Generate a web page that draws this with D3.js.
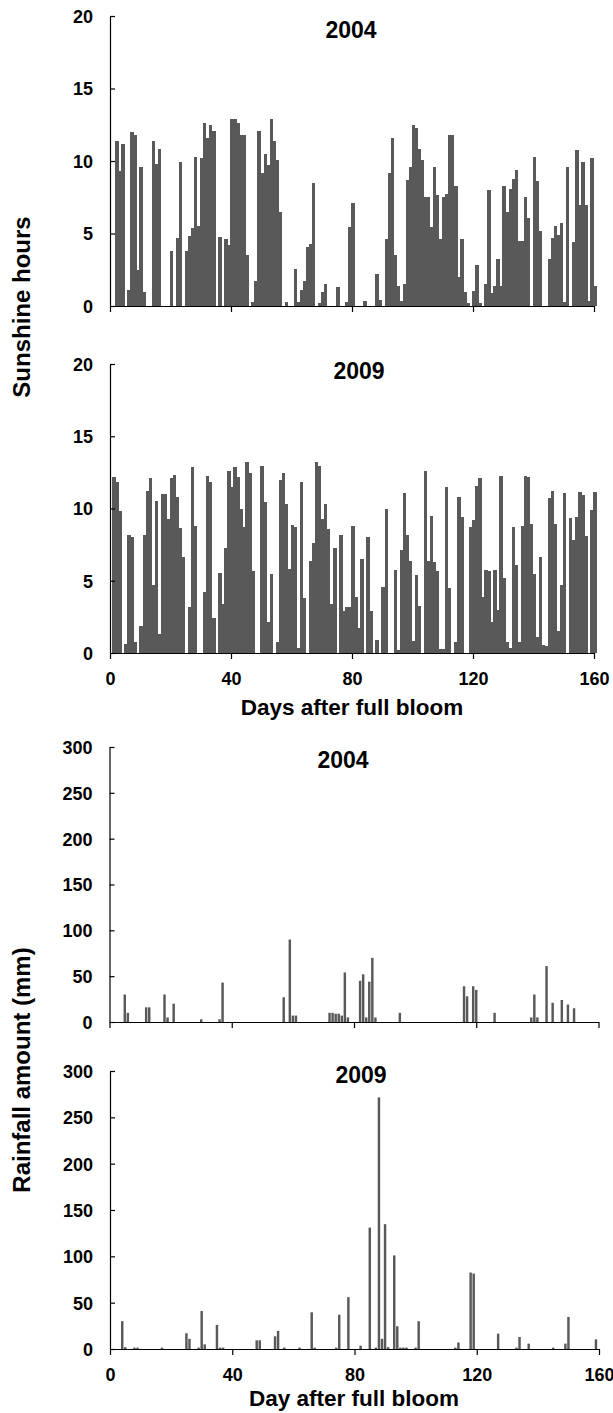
<!DOCTYPE html>
<html>
<head>
<meta charset="utf-8">
<script src="https://cdn.jsdelivr.net/npm/d3@7/dist/d3.min.js"></script>
<style>
  body { margin: 0; background: #fff; }
  svg text { font-family: "Liberation Sans", Arial, sans-serif; font-weight: bold; fill: #000; }
</style>
</head>
<body>
<div id="chart"></div>
<script>
// Sunshine hours per day after full bloom (days 1..160)
const sunshine2004 = [
  0, 11.4, 9.3, 11.2, 0, 1.1, 12.0, 11.8, 2.5, 9.6,
  1.0, 0, 0, 11.4, 9.8, 10.8, 0, 0, 0, 3.8,
  0, 4.7, 9.9, 0, 3.8, 4.85, 5.4, 10.3, 5.5, 10.2,
  12.65, 11.6, 12.5, 12.1, 0, 4.75, 0, 4.6, 4.2, 12.9,
  12.9, 12.6, 11.8, 11.8, 3.5, 0, 0.3, 1.7, 12.1, 9.2,
  10.5, 9.7, 12.9, 11.4, 10.1, 6.45, 0, 0.3, 0, 0,
  2.55, 0.3, 1.1, 1.7, 4.1, 4.25, 8.5, 0, 0.2, 0.95,
  1.5, 0, 0, 0, 1.3, 0, 0, 0.3, 5.45, 7.1,
  0, 0, 0, 0.35, 0, 0, 0, 2.2, 0.4, 0,
  4.65, 9.2, 11.6, 3.5, 1.4, 0.35, 1.5, 8.7, 9.6, 12.5,
  12.3, 10.8, 10.1, 7.5, 7.5, 5.45, 9.6, 7.65, 4.65, 7.5,
  7.75, 11.8, 11.8, 8.3, 2.0, 4.6, 1.0, 0.2, 0, 1.05,
  2.85, 0.2, 0, 1.5, 8.0, 0.9, 1.4, 3.25, 1.4, 8.3,
  6.45, 8.05, 8.75, 9.4, 4.45, 4.45, 7.55, 6.1, 0, 10.25,
  8.65, 5.15, 0, 0, 3.25, 4.7, 5.5, 4.9, 5.7, 0.3,
  9.6, 0, 4.4, 10.75, 6.95, 9.95, 7.0, 0.35, 10.2, 1.4
];
const sunshine2009 = [
  12.2, 11.8, 9.8, 0, 0.6, 8.2, 8.0, 0.75, 0, 1.85,
  8.2, 11.2, 12.1, 4.7, 10.55, 1.3, 11.0, 11.0, 9.25, 12.1,
  12.3, 10.8, 8.65, 6.65, 0, 3.2, 12.85, 8.8, 0, 0,
  4.25, 12.25, 11.8, 2.4, 0, 5.55, 3.4, 7.25, 12.6, 11.5,
  12.85, 12.2, 10.0, 8.75, 13.2, 12.45, 5.7, 0, 0, 12.95,
  10.45, 2.15, 5.45, 0, 0.75, 12.0, 12.45, 10.3, 5.8, 8.85,
  8.7, 0.35, 11.8, 3.8, 0, 6.4, 7.6, 13.2, 12.95, 9.3,
  10.3, 8.6, 3.4, 7.25, 0, 8.15, 2.9, 3.2, 3.2, 8.8,
  3.85, 1.75, 6.5, 0, 8.0, 2.9, 0, 0.9, 0, 4.6,
  9.95, 0, 0, 5.75, 0.2, 7.15, 11.05, 8.15, 6.4, 0.8,
  5.4, 3.25, 0, 12.6, 6.4, 9.5, 6.3, 5.7, 0.25, 0.25,
  11.5, 4.5, 0, 0.75, 10.8, 9.4, 0, 0, 8.7, 9.2,
  11.55, 12.1, 3.85, 5.75, 5.7, 2.15, 5.75, 2.95, 12.25, 5.2,
  0.75, 0.35, 8.7, 6.1, 0.75, 8.8, 12.25, 12.15, 8.9, 5.45,
  1.1, 6.65, 0.55, 0.5, 10.75, 11.2, 8.9, 1.5, 4.7, 11.05,
  0, 9.35, 7.85, 9.4, 11.15, 10.9, 8.1, 0, 9.9, 11.15
];

// Rainfall (mm): rainy days and amounts
const rainDays2004 = [5, 6, 12, 13, 18, 19, 21, 30, 36, 37, 57, 59, 60, 61, 72, 73, 74, 75, 76, 77, 78,
  82, 83, 84, 85, 86, 87, 95, 116, 117, 119, 120, 126, 138, 139, 140, 143, 145, 148, 150, 152];
const rain2004 = [30, 10, 16, 16, 30, 5, 20, 3, 3, 43, 27, 90, 7, 7, 10, 10, 9, 9, 7, 54, 5,
  45, 52, 5, 44, 70, 5, 10, 39, 28, 39, 35, 10, 5, 30, 5, 61, 21, 24, 19, 15];
const rainDays2009 = [4, 5, 8, 9, 17, 25, 26, 29, 30, 31, 35, 36, 37, 48, 49, 54, 55, 57, 62, 66, 67,
  74, 75, 78, 82, 85, 87, 88, 89, 90, 91, 93, 94, 95, 96, 97, 100, 101, 113, 114, 118, 119,
  127, 133, 134, 137, 145, 149, 150, 159];
const rain2009 = [30, 2, 1.5, 1.5, 1.5, 17, 11, 1.5, 41, 5, 26, 1.5, 1.5, 9.4, 9.4, 13.7, 19.5, 1.5, 1.5, 39.6, 1.5,
  1.5, 37, 56, 3.6, 131, 1.5, 271.5, 11, 134.7, 2, 101, 24.5, 1.5, 1.5, 1.5, 1.5, 30, 1.5, 7, 82.5, 81.4,
  16.6, 1.5, 13, 5.8, 1.5, 5.8, 34.6, 10.4];

const dayTicks = [0, 40, 80, 120, 160];
const sunTicks = [0, 5, 10, 15, 20];
const rainTicks = [0, 50, 100, 150, 200, 250, 300];

const barColor = "#595959";

const svg = d3.select("#chart").append("svg")
    .attr("width", 613)
    .attr("height", 1413);

function drawPanel(p) {
    const x = d3.scaleLinear().domain([0, 160]).range([p.x0, p.x1]);
    const y = d3.scaleLinear().domain([0, p.yMax]).range([p.yBase, p.yTop]);
    const g = svg.append("g");
    const step = x(1) - x(0);

    // bars
    g.selectAll("rect")
        .data(p.days.map((d, i) => ({ day: d, v: p.values[i] })).filter(d => d.v > 0))
        .enter().append("rect")
        .attr("x", d => p.dense ? x(d.day - 0.25) : x(d.day) - step * 0.4)
        .attr("width", p.dense ? step + 0.4 : step * 0.8)
        .attr("y", d => y(d.v))
        .attr("height", d => y(0) - y(d.v))
        .attr("fill", barColor)
        .attr("shape-rendering", p.dense ? "crispEdges" : null);

    // y axis, ticks pointing inward
    const yAxis = g.append("g")
        .attr("transform", `translate(${p.x0},0)`)
        .call(d3.axisLeft(y).tickValues(p.yTicks).tickSizeInner(-5).tickSizeOuter(0).tickPadding(17));
    yAxis.selectAll("text").style("font-size", "18px").attr("dy", "0.36em");

    // x axis
    const xAxis = g.append("g")
        .attr("transform", `translate(0,${p.yBase})`)
        .call(d3.axisBottom(x).tickValues(dayTicks).tickSizeInner(6).tickSizeOuter(0).tickPadding(13)
            .tickFormat(p.xLabels ? d3.format("d") : ""));
    xAxis.selectAll("text").style("font-size", "18px");

    g.selectAll(".domain, .tick line").attr("stroke", "#000").attr("stroke-width", 1.2);

    // panel title
    g.append("text")
        .attr("x", p.titleX)
        .attr("y", p.titleY)
        .attr("text-anchor", "middle")
        .style("font-size", "23px")
        .text(p.title);
}

const allDays = d3.range(1, 161);

drawPanel({ days: allDays, values: sunshine2004, dense: true, yMax: 20, yTicks: sunTicks,
    x0: 110, x1: 594, yTop: 16, yBase: 306, xLabels: false, title: "2004", titleX: 351, titleY: 38 });
drawPanel({ days: allDays, values: sunshine2009, dense: true, yMax: 20, yTicks: sunTicks,
    x0: 110, x1: 594, yTop: 364, yBase: 653, xLabels: true, title: "2009", titleX: 359, titleY: 379 });
drawPanel({ days: rainDays2004, values: rain2004, dense: false, yMax: 300, yTicks: rainTicks,
    x0: 109.5, x1: 598.5, yTop: 747, yBase: 1022, xLabels: false, title: "2004", titleX: 343, titleY: 768 });
drawPanel({ days: rainDays2009, values: rain2009, dense: false, yMax: 300, yTicks: rainTicks,
    x0: 110, x1: 599, yTop: 1071, yBase: 1349, xLabels: true, title: "2009", titleX: 361, titleY: 1083 });

// axis titles
svg.append("text")
    .attr("transform", "translate(30,307) rotate(-90)")
    .attr("text-anchor", "middle")
    .style("font-size", "24px")
    .text("Sunshine hours");

svg.append("text")
    .attr("transform", "translate(30,1070) rotate(-90)")
    .attr("text-anchor", "middle")
    .style("font-size", "24px")
    .text("Rainfall amount (mm)");

svg.append("text")
    .attr("x", 352).attr("y", 715)
    .attr("text-anchor", "middle")
    .style("font-size", "22.5px")
    .text("Days after full bloom");

svg.append("text")
    .attr("x", 354).attr("y", 1406)
    .attr("text-anchor", "middle")
    .style("font-size", "22.5px")
    .text("Day after full bloom");
</script>
</body>
</html>
